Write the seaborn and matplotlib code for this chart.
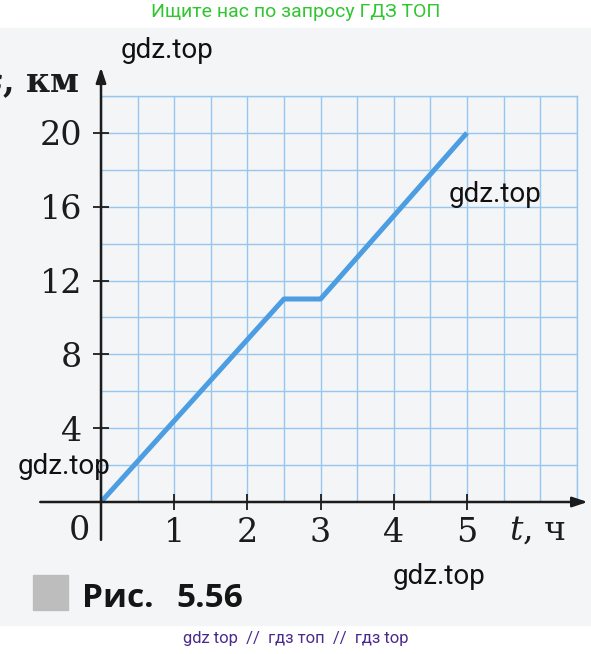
import numpy as np
import matplotlib
matplotlib.use('Agg')
import matplotlib.pyplot as plt
from matplotlib.patches import Rectangle
import seaborn as sns

# distance-time graph (Рис. 5.56)
t_hours = [0, 2.5, 3, 5]
s_km = [0, 11, 11, 20]
x_ticks = [1, 2, 3, 4, 5]
y_ticks = [4, 8, 12, 16, 20]
x_grid = [0, 0.5, 1, 1.5, 2, 2.5, 3, 3.5, 4, 4.5, 5, 5.5, 6, 6.5]
y_grid = [0, 2, 4, 6, 8, 10, 12, 14, 16, 18, 20, 22]

W, H = 591, 654
GRID = '#98c7ed'
LINE = '#4d9de2'
INK = '#1c1c1c'

sns.set_style('white')
plt.rcParams['font.family'] = ['DejaVu Serif']
plt.rcParams['mathtext.fontset'] = 'dejavuserif'

fig = plt.figure(figsize=(W / 100, H / 100), dpi=100)
fig.patch.set_facecolor('white')
# scanned page background
fig.patches.append(Rectangle((0, 1 - 625 / H), 1, (625 - 28) / H,
                             transform=fig.transFigure, color='#f4f5f7', zorder=-5))

ax = fig.add_axes([101 / W, (H - 502) / H, 475.7 / W, 406 / H])
ax.set_facecolor('none')
ax.set_zorder(2)
ax.set_xlim(0, 6.5)
ax.set_ylim(0, 22)

ax.set_xticks(x_grid, minor=True)
ax.set_yticks(y_grid, minor=True)
ax.set_xticks(x_ticks)
ax.set_yticks(y_ticks)
ax.grid(which='both', color=GRID, lw=1.0)
ax.tick_params(which='minor', length=0)
ax.tick_params(which='major', bottom=True, left=True, direction='inout',
               length=11, width=1.3, color=INK, labelsize=24, labelcolor=INK)
ax.tick_params(axis='x', pad=5)
ax.tick_params(axis='y', pad=8)

for side in ['left', 'bottom']:
    ax.spines[side].set_visible(False)
for side in ['top', 'right']:
    ax.spines[side].set_color(GRID)
    ax.spines[side].set_linewidth(1.0)

sns.lineplot(x=t_hours, y=s_km, ax=ax, color=LINE, lw=3.6, zorder=3,
             solid_capstyle='butt')

# axes with arrows
arrow = dict(arrowstyle='-|>,head_length=0.9,head_width=0.3', lw=1.8,
             color=INK, shrinkA=0, shrinkB=0)
ax.annotate('', xy=(6.65, 0), xytext=(-0.83, 0), arrowprops=arrow,
            annotation_clip=False, zorder=4)
ax.annotate('', xy=(0, 23.55), xytext=(0, -2.05), arrowprops=arrow,
            annotation_clip=False, zorder=4)

ax.text(-0.3, -1.55, '0', fontsize=24, color=INK, ha='center', va='center')
ax.text(5.58, -1.55, '$t$, ч', fontsize=24, color=INK, ha='left', va='center')
ax.text(-0.29, 22.2, '$s$, км', fontsize=24, fontweight='bold', color=INK,
        ha='right', va='baseline')

# caption
fig.patches.append(Rectangle((33 / W, 1 - 610 / H), 35 / W, 35 / H,
                             transform=fig.transFigure, color='#bdbdbd', zorder=1))
fig.text(82 / W, 1 - 607 / H, 'Рис.', fontsize=24, fontweight='bold',
         family='Open Sans', color='#151515', va='baseline')
fig.text(176 / W, 1 - 607 / H, '5.56', fontsize=24, fontweight='bold',
         family='Open Sans', color='#151515', va='baseline')

# watermarks
for x, y in [(167, 50), (495, 195), (64, 466), (439, 577)]:
    fig.text(x / W, 1 - y / H, 'gdz.top', fontsize=20, family='Roboto',
             color='#111111', ha='center', va='center', zorder=5)
fig.text(0.5, 1 - 12 / H, 'Ищите нас по запросу ГДЗ ТОП', fontsize=14,
         family='Roboto', color='#2fc62f', ha='center', va='center')
fig.text(0.5, 1 - 638 / H, 'gdz top  //  гдз топ  //  гдз top', fontsize=12,
         family='Roboto', color='#4a2a8c', ha='center', va='center')

fig.savefig('out.png', dpi=100)
